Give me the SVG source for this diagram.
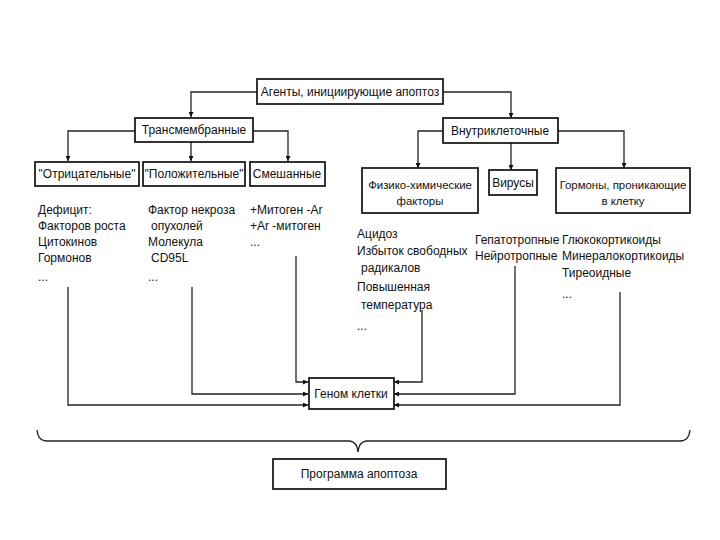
<svg xmlns="http://www.w3.org/2000/svg" width="720" height="540" viewBox="0 0 720 540">
<style>
.box{fill:#fff;stroke:#111;stroke-width:1.7}
.t{font-family:"Liberation Sans","Arial",sans-serif;font-size:12px;fill:#111}
.s{font-size:11.4px}
.c{text-anchor:middle}
.ln{fill:none;stroke:#222;stroke-width:1.3}
</style>
<defs>
<marker id="ah" viewBox="0 0 10 10" refX="10" refY="5" markerWidth="5" markerHeight="5" orient="auto" markerUnits="userSpaceOnUse">
<path d="M0,0 L10,5 L0,10 z" fill="#111"/>
</marker>
</defs>
<rect width="720" height="540" fill="#fff"/>
<g id="connectors">
<path class="ln" d="M257,92 H191 V117" marker-end="url(#ah)"/>
<path class="ln" d="M443,92 H511 V118" marker-end="url(#ah)"/>
<path class="ln" d="M135,131 H68 V161" marker-end="url(#ah)"/>
<path class="ln" d="M191,142 V161" marker-end="url(#ah)"/>
<path class="ln" d="M253,131 H288 V161" marker-end="url(#ah)"/>
<path class="ln" d="M443,131 H418 V168" marker-end="url(#ah)"/>
<path class="ln" d="M511,143 V170" marker-end="url(#ah)"/>
<path class="ln" d="M558,131 H624 V168" marker-end="url(#ah)"/>
<path class="ln" d="M68,287 V405 H308" marker-end="url(#ah)"/>
<path class="ln" d="M192,287 V394 H308" marker-end="url(#ah)"/>
<path class="ln" d="M296,256 V382 H308" marker-end="url(#ah)"/>
<path class="ln" d="M422,310 V382 H394" marker-end="url(#ah)"/>
<path class="ln" d="M515,266 V394 H394" marker-end="url(#ah)"/>
<path class="ln" d="M620,292 V405 H394" marker-end="url(#ah)"/>
<path class="ln" d="M37,430 Q38,441 47,441 H350 Q357,442 358,452 Q359,442 366,441 H680 Q689,441 690,430"/>
</g>
<g id="agents"><rect class="box" x="257" y="79" width="186" height="25"/><text class="t c" x="350" y="96">Агенты, инициирующие апоптоз</text></g>
<g id="transmembrane"><rect class="box" x="135" y="118" width="118" height="24"/><text class="t c" x="194" y="134">Трансмембранные</text></g>
<g id="intracellular"><rect class="box" x="443" y="118" width="115" height="25"/><text class="t c" x="500" y="135">Внутриклеточные</text></g>
<g id="negative"><rect class="box" x="35" y="162" width="104" height="24"/><text class="t c" x="87" y="178">"Отрицательные"</text>
<text class="t" x="38" y="214">Дефицит:</text><text class="t" x="38" y="230">Факторов роста</text><text class="t" x="38" y="246">Цитокинов</text><text class="t" x="38" y="262">Гормонов</text><text class="t" x="38" y="281">...</text></g>
<g id="positive"><rect class="box" x="143" y="162" width="102" height="24"/><text class="t c" x="194" y="178">"Положительные"</text>
<text class="t" x="148" y="214">Фактор некроза</text><text class="t" x="151" y="230">опухолей</text><text class="t" x="148" y="246">Молекула</text><text class="t" x="151" y="262">CD95L</text><text class="t" x="148" y="281">...</text></g>
<g id="mixed"><rect class="box" x="250" y="162" width="75" height="24"/><text class="t c" x="287" y="178">Смешанные</text>
<text class="t" x="250" y="214">+Митоген -Ar</text><text class="t" x="250" y="230">+Ar -митоген</text><text class="t" x="250" y="246">...</text></g>
<g id="physchem"><rect class="box" x="362" y="168" width="116" height="45"/><text class="t c s" x="420" y="189">Физико-химические</text><text class="t c s" x="420" y="205">факторы</text>
<text class="t" x="357" y="238">Ацидоз</text><text class="t" x="357" y="255">Избыток свободных</text><text class="t" x="361" y="272">радикалов</text><text class="t" x="357" y="291">Повышенная</text><text class="t" x="361" y="309">температура</text><text class="t" x="357" y="330">...</text></g>
<g id="viruses"><rect class="box" x="489" y="170" width="48" height="25"/><text class="t c" x="513" y="187">Вирусы</text>
<text class="t" x="475" y="244">Гепатотропные</text><text class="t" x="475" y="260">Нейротропные</text></g>
<g id="hormones"><rect class="box" x="556" y="168" width="134" height="45"/><text class="t c s" x="623" y="189">Гормоны, проникающие</text><text class="t c s" x="623" y="205">в клетку</text>
<text class="t" x="562" y="244">Глюкокортикоиды</text><text class="t" x="562" y="260">Минералокортикоиды</text><text class="t" x="562" y="277">Тиреоидные</text><text class="t" x="562" y="298">...</text></g>
<g id="genome"><rect class="box" x="309" y="378" width="85" height="31"/><text class="t c" x="351" y="398">Геном клетки</text></g>
<g id="program"><rect class="box" x="273" y="459" width="173" height="30"/><text class="t c" x="359" y="478">Программа апоптоза</text></g>
</svg>
